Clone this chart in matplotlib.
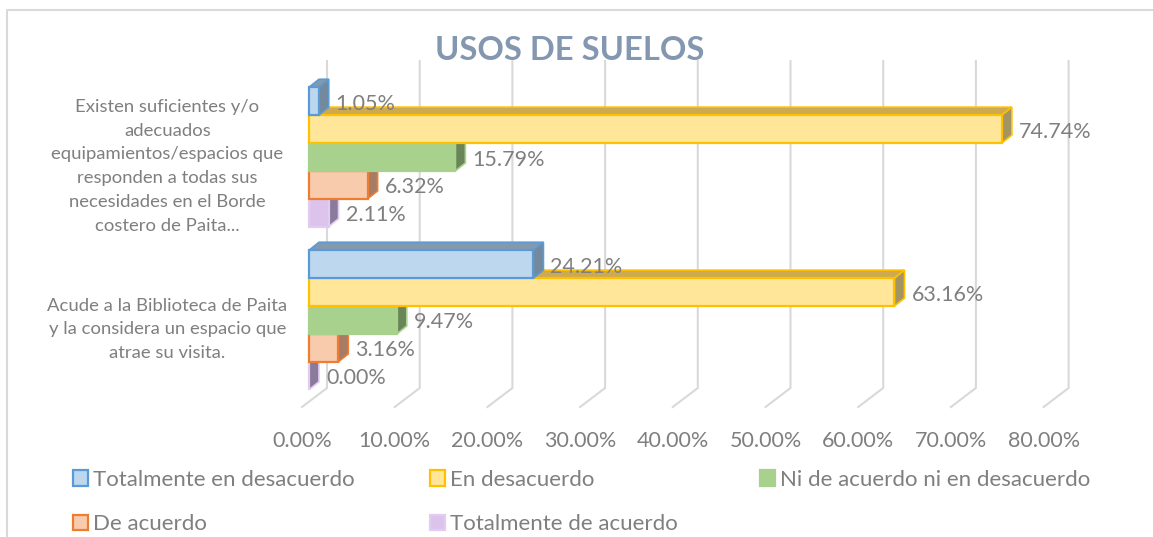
import matplotlib
matplotlib.use('Agg')
import matplotlib.pyplot as plt
from matplotlib.transforms import ScaledTranslation

plt.rcParams['font.family'] = ['Lato', 'DejaVu Sans']

categorias = ['Acude a la Biblioteca de Paita\ny la considera un espacio que\natrae su visita.',
              'Existen suficientes y/o\nadecuados\nequipamientos/espacios que\nresponden a todas sus\nnecesidades en el Borde\ncostero de Paita...']
series = ['Totalmente en desacuerdo', 'En desacuerdo', 'Ni de acuerdo ni en desacuerdo',
          'De acuerdo', 'Totalmente de acuerdo']
# un array por serie: [Acude, Existen]
totalmente_desacuerdo = [24.21, 1.05]
en_desacuerdo = [63.16, 74.74]
ni_ni = [9.47, 15.79]
de_acuerdo = [3.16, 6.32]
totalmente_acuerdo = [0.00, 2.11]
valores = [totalmente_desacuerdo, en_desacuerdo, ni_ni, de_acuerdo, totalmente_acuerdo]
ticks = [0, 10, 20, 30, 40, 50, 60, 70, 80]

relleno = ['#bdd7ee', '#ffe699', '#a9d18e', '#f8cbad', '#dcc3ec']
borde = ['#5b9bd5', '#ffc000', '#a9d18e', '#ed7d31', '#e2cdf2']
lado = ['#75899c', '#a39463', '#6a8557', '#a87c64', '#8a7a9c']
techo = ['#8499ad', '#cdaa50', '#8aa874', '#c9a48c', '#b09cc0']

W, H = 1153, 537
fig = plt.figure(figsize=(W / 100, H / 100), dpi=100)
# el plano frontal de las barras: 0% en x=309 px
ppu = 9.27
ax = fig.add_axes([309 / W, (H - 389) / H, 80 * ppu / W, (389 - 87) / H])
ax.set_xlim(0, 80)
esp = 163.0
ax.set_ylim(-69 / esp, 1 + 70 / esp)
px = 1 / ppu
py = 1 / esp
alto = 27.9 * py
fondo_x, fondo_y = 10 * px, 8 * py

for s in ax.spines.values():
    s.set_visible(False)

# rejilla en la pared del fondo y el suelo
y_base = -68 * py
y_sup = 1 + 96 * py
for t in ticks:
    ax.plot([t + 18 * px, t + 18 * px, t - 7 * px], [y_sup, y_base, y_base - 19 * py],
            color='#d9d9d9', lw=1.5, clip_on=False, zorder=1, solid_joinstyle='miter')

# cada grupo de abajo hacia arriba, las barras de arriba tapan a las de abajo
for g in [0, 1]:
    for i in range(4, -1, -1):
        v = valores[i][g]
        yc = g + (2 - i) * alto
        z = 2 + g * 10 + (4 - i)
        y0, y1 = yc - alto / 2, yc + alto / 2
        ax.fill([0, fondo_x, v + fondo_x, v], [y1, y1 + fondo_y, y1 + fondo_y, y1], fc=techo[i],
                ec=borde[i], lw=1.2, clip_on=False, zorder=z)
        ax.fill([v, v + fondo_x, v + fondo_x, v], [y0, y0 + fondo_y, y1 + fondo_y, y1], fc=lado[i],
                ec=borde[i], lw=1.2, clip_on=False, zorder=z)
        ax.barh(yc, v, height=alto, color=relleno[i], edgecolor=borde[i], lw=1.6,
                clip_on=False, zorder=z + 0.5, label=series[i] if g == 0 else None)
        ax.text(v + fondo_x + 7 * px, yc - 2.5 * py, '%.2f%%' % v, color='#7f7f7f', fontsize=15.5,
                va='center', ha='left', zorder=40)

ax.set_xticks(ticks)
ax.set_xticklabels(['%.2f%%' % t for t in ticks], fontsize=15.5, color='#7f7f7f')
ax.tick_params(axis='x', length=0, pad=30)
off = ScaledTranslation(-7 / 100, 0, fig.dpi_scale_trans)
for lab in ax.get_xticklabels():
    lab.set_transform(lab.get_transform() + off)

ax.set_yticks([0, 1])
ax.set_yticklabels(categorias, fontsize=13.3, color='#7f7f7f', ha='center', linespacing=1.6)
ax.tick_params(axis='y', length=0, pad=102)
off_y = ScaledTranslation(0, -4 / 100, fig.dpi_scale_trans)
for lab in ax.get_yticklabels():
    lab.set_transform(lab.get_transform() + off_y)

fig.text(569.5 / W, (H - 50) / H, 'USOS DE SUELOS', fontsize=23.6, fontweight='bold', color='#8497b0',
         ha='center', va='center')

# leyenda en dos partes para ajustar las columnas
h, l = ax.get_legend_handles_labels()
izq = [0, 3, 1, 4]
h1 = [h[l.index(series[k])] for k in izq]
l1 = [series[k] for k in izq]
opciones = dict(frameon=False, fontsize=16, labelcolor='#7f7f7f', handlelength=0.68, handleheight=0.68,
                handletextpad=0.23, labelspacing=1.1, borderpad=0.3, loc='lower left')
fig.legend(h1, l1, ncol=2, bbox_to_anchor=(55 / W, -15 / H), columnspacing=3.4, **opciones)
fig.legend([h[l.index(series[2])]], [series[2]], bbox_to_anchor=(742 / W, 29.5 / H), **opciones)

# marco exterior, sin lado derecho
fig.add_artist(plt.Line2D([7 / W, 7 / W, 1], [0, (H - 10) / H, (H - 10) / H], color='#d9d9d9', lw=1.5))

fig.savefig('out.png', dpi=100)
